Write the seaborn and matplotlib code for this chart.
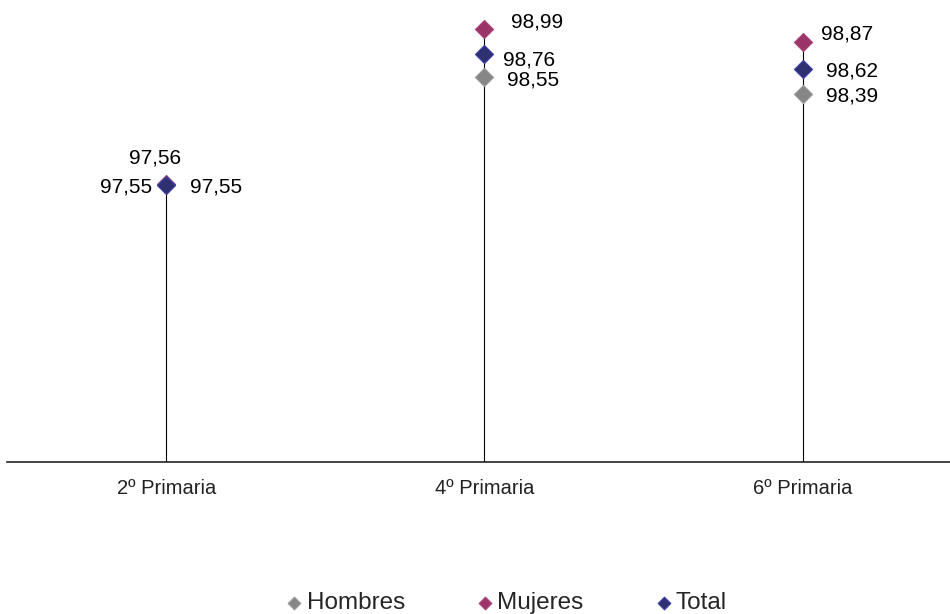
import pandas as pd
import numpy as np
import matplotlib.pyplot as plt
import seaborn as sns

# data
cursos = ['2º Primaria', '4º Primaria', '6º Primaria']
hombres = [97.55, 98.55, 98.39]
mujeres = [97.56, 98.99, 98.87]
total = [97.55, 98.76, 98.62]

series = ['Hombres', 'Mujeres', 'Total']
colores = {'Hombres': '#868686', 'Mujeres': '#9B3468', 'Total': '#2E3070'}
bordes = {'Hombres': '#9a9a9a', 'Mujeres': '#a8447a', 'Total': '#3b3fa8'}

df = pd.DataFrame({
    'curso': cursos * 3,
    'serie': ['Hombres'] * 3 + ['Mujeres'] * 3 + ['Total'] * 3,
    'valor': hombres + mujeres + total,
})

# label offsets in points (dx, dy, ha) per serie and curso
offsets = {
    ('Mujeres', 0): (-8, 19, 'center'), ('Hombres', 0): (-10, -1, 'right'), ('Total', 0): (17, -1, 'left'),
    ('Mujeres', 1): (19, 5, 'left'), ('Total', 1): (13, -4, 'left'), ('Hombres', 1): (16, -2, 'left'),
    ('Mujeres', 2): (13, 6, 'left'), ('Total', 2): (17, -1, 'left'), ('Hombres', 2): (17, -1, 'left'),
}

sns.set_style('white')
plt.rcParams['font.family'] = ['Liberation Sans', 'DejaVu Sans']

fig = plt.figure(figsize=(9.5, 6.14), dpi=100)
ax = fig.add_axes([7 / 950, 152 / 614, 955 / 950, 462 / 614])

ymin = 95.0
tops = df.groupby('curso', sort=False)['valor'].max()
ax.vlines(range(len(cursos)), ymin, tops.values, color='black', lw=0.8, zorder=1)

for s in series:
    sub = df[df.serie == s]
    sns.scatterplot(data=sub, x='curso', y='valor', marker='D', s=85,
                    color=colores[s], edgecolor=bordes[s], linewidth=0.8,
                    label=s, ax=ax, zorder=3)
    for i, v in enumerate(sub['valor']):
        dx, dy, ha = offsets[(s, i)]
        ax.annotate('{:.2f}'.format(v).replace('.', ','), (i, v),
                    xytext=(dx, dy), textcoords='offset points',
                    ha=ha, va='center', fontsize=15, color='black')

ax.set_xlim(-0.5, 2.5)
ax.set_ylim(ymin, 99.26)
ax.set_xlabel('')
ax.set_ylabel('')
ax.set_yticks([])
ax.tick_params(axis='x', length=0, pad=12, labelsize=14.5, colors='#222222')
for sp in ['top', 'right', 'left']:
    ax.spines[sp].set_visible(False)
ax.spines['bottom'].set_color('#222222')
ax.spines['bottom'].set_linewidth(1.2)

handles, labels = ax.get_legend_handles_labels()
ax.get_legend().remove()
leg = fig.legend(handles, labels, loc='lower center', bbox_to_anchor=(0.533, -0.036),
                 ncol=3, frameon=False, fontsize=17.5, markerscale=0.7,
                 handlelength=0.7, handletextpad=0.15, columnspacing=2.95)

fig.savefig('out.png', dpi=100)
